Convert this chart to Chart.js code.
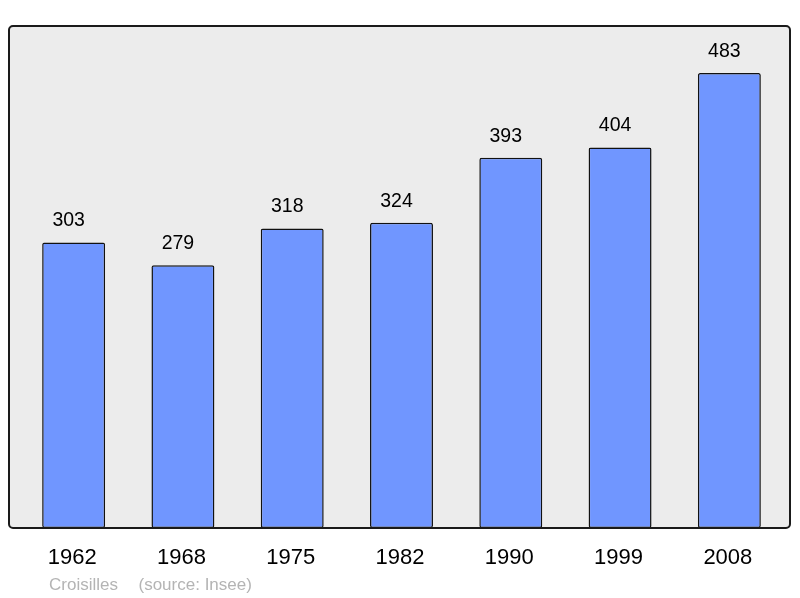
<!DOCTYPE html>
<html>
<head>
<meta charset="utf-8">
<script src="https://cdn.jsdelivr.net/npm/chart.js@4"></script>
<style>
html,body{margin:0;padding:0;background:#fff;}
#wrap{width:800px;height:598px;position:relative;}
</style>
</head>
<body>
<div id="wrap"><canvas id="c" width="800" height="598"></canvas></div>
<script>
const years = ["1962","1968","1975","1982","1990","1999","2008"];
const population = [303,279,318,324,393,404,483];
const captionName = "Croisilles";
const captionSource = "(source: Insee)";

const FONT = "'Liberation Sans', Arial, sans-serif";

const boxPlugin = {
  id: 'box',
  beforeDraw(chart) {
    const {ctx, chartArea: a} = chart;
    ctx.save();
    ctx.fillStyle = '#ffffff';
    ctx.fillRect(0,0,chart.width,chart.height);
    const x = a.left - 10, y = a.top, w = (a.right + 6) - x, h = a.bottom - a.top;
    ctx.beginPath();
    ctx.roundRect(x, y, w, h, 4);
    ctx.fillStyle = '#ececec';
    ctx.fill();
    ctx.restore();
  },
  afterDatasetsDraw(chart) {
    const {ctx, chartArea: a} = chart;
    ctx.save();
    const x = a.left - 10, y = a.top, w = (a.right + 6) - x, h = a.bottom - a.top;
    ctx.beginPath();
    ctx.roundRect(x, y, w, h, 4);
    ctx.lineWidth = 2;
    ctx.strokeStyle = '#1a1a1a';
    ctx.stroke();
    // value labels
    const meta = chart.getDatasetMeta(0);
    ctx.fillStyle = '#000';
    ctx.font = '19.5px ' + FONT;
    ctx.textAlign = 'center';
    ctx.textBaseline = 'middle';
    meta.data.forEach((bar, i) => {
      ctx.fillText(String(chart.data.datasets[0].data[i]), bar.x - 5, bar.y - 21.5);
    });
    // caption
    ctx.fillStyle = '#b4b4b4';
    ctx.font = '17px ' + FONT;
    ctx.textAlign = 'left';
    ctx.textBaseline = 'alphabetic';
    ctx.fillText(captionName, a.left + 30, 590);
    ctx.fillText(captionSource, a.left + 119.5, 590);
    ctx.restore();
  }
};

new Chart(document.getElementById('c'), {
  type: 'bar',
  data: {
    labels: years,
    datasets: [{
      data: population,
      backgroundColor: '#7096ff',
      borderColor: '#111',
      borderWidth: 1.5,
      borderRadius: 2,
      borderSkipped: false,
      barPercentage: 0.576,
      categoryPercentage: 1
    }]
  },
  options: {
    responsive: false,
    animation: false,
    events: [],
    layout: { padding: { left: 19, right: 16, top: 26, bottom: 0 } },
    plugins: { legend: { display: false }, tooltip: { enabled: false } },
    scales: {
      x: {
        grid: { display: false, drawTicks: false },
        border: { display: false },
        ticks: { color: '#000', font: { size: 22, family: FONT }, padding: 17, labelOffset: -1.5 },
        afterFit(s) { s.height = 70; }
      },
      y: {
        display: false,
        min: 0,
        max: 533
      }
    }
  },
  plugins: [boxPlugin]
});
</script>
</body>
</html>
